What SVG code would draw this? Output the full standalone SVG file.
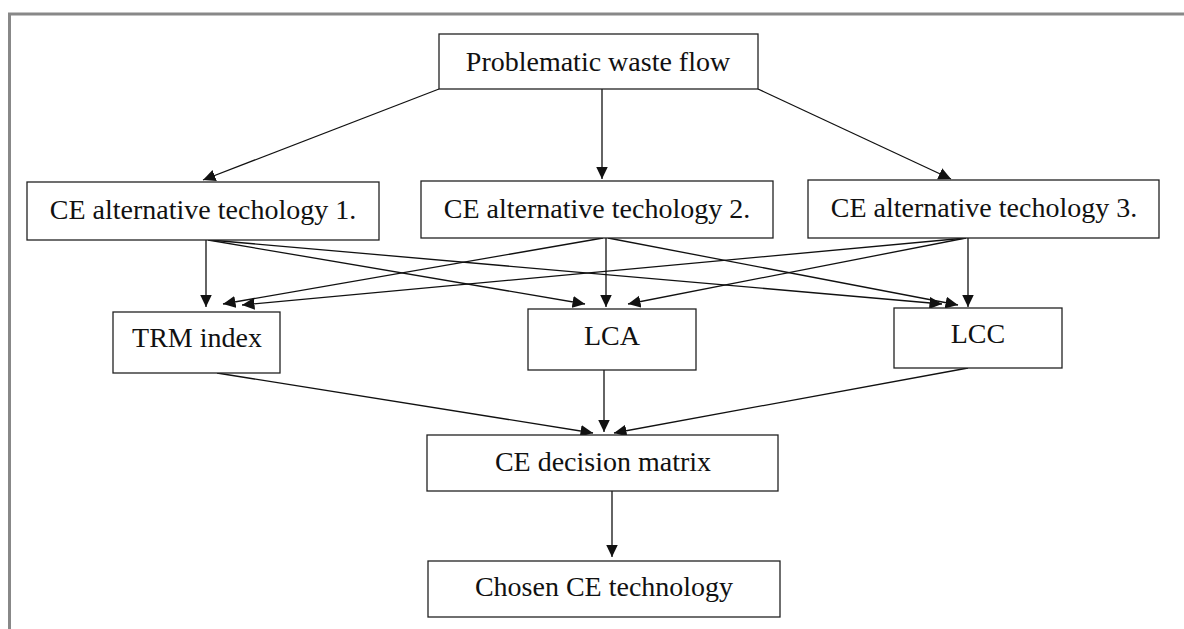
<svg xmlns="http://www.w3.org/2000/svg" width="1184" height="629" viewBox="0 0 1184 629">
<defs>
<style>
.box{fill:#fff;stroke:#222;stroke-width:1.3}
.lbl{font-family:"Liberation Serif","Times New Roman",serif;font-size:28px;fill:#111;text-anchor:middle}
.edge{stroke:#111;stroke-width:1.3;fill:none;marker-end:url(#ah)}
</style>
<marker id="ah" markerUnits="userSpaceOnUse" markerWidth="14" markerHeight="13" refX="12.5" refY="6" orient="auto">
<path d="M0,0 L12.5,6 L0,12 z" fill="#111"/>
</marker>
</defs>
<rect width="1184" height="629" fill="#fff"/>
<path d="M9.5,629 V14 H1184" fill="none" stroke="#888" stroke-width="3"/>
<g id="connectors">
<line class="edge" x1="439" y1="89" x2="203" y2="180"/>
<line class="edge" x1="602" y1="89" x2="602" y2="179"/>
<line class="edge" x1="758" y1="89" x2="951" y2="179"/>
<line class="edge" x1="206" y1="240" x2="206" y2="307"/>
<line class="edge" x1="208" y1="240" x2="585" y2="304"/>
<line class="edge" x1="210" y1="240" x2="942" y2="304"/>
<line class="edge" x1="603" y1="238" x2="223" y2="304"/>
<line class="edge" x1="606" y1="238" x2="606" y2="307"/>
<line class="edge" x1="608" y1="238" x2="958" y2="305"/>
<line class="edge" x1="966" y1="238" x2="242" y2="305"/>
<line class="edge" x1="966" y1="238" x2="628" y2="304"/>
<line class="edge" x1="968" y1="238" x2="968" y2="307"/>
<line class="edge" x1="217" y1="373" x2="593" y2="433"/>
<line class="edge" x1="604" y1="370" x2="604" y2="432"/>
<line class="edge" x1="968" y1="368" x2="614" y2="433"/>
<line class="edge" x1="612" y1="491" x2="612" y2="557"/>
</g>
<g id="problematic">
<rect class="box" x="439" y="34" width="319" height="55"/>
<text class="lbl" x="598" y="71">Problematic waste flow</text>
</g>
<g id="alt1">
<rect class="box" x="27" y="182" width="352" height="58"/>
<text class="lbl" x="203" y="219">CE alternative techology 1.</text>
</g>
<g id="alt2">
<rect class="box" x="421" y="181" width="352" height="57"/>
<text class="lbl" x="597" y="218">CE alternative techology 2.</text>
</g>
<g id="alt3">
<rect class="box" x="808" y="180" width="351" height="58"/>
<text class="lbl" x="984" y="217">CE alternative techology 3.</text>
</g>
<g id="trm">
<rect class="box" x="113" y="312" width="167" height="61"/>
<text class="lbl" x="197" y="347">TRM index</text>
</g>
<g id="lca">
<rect class="box" x="528" y="309" width="168" height="61"/>
<text class="lbl" x="612" y="345">LCA</text>
</g>
<g id="lcc">
<rect class="box" x="894" y="308" width="168" height="60"/>
<text class="lbl" x="978" y="343">LCC</text>
</g>
<g id="matrix">
<rect class="box" x="427" y="435" width="351" height="56"/>
<text class="lbl" x="603" y="471">CE decision matrix</text>
</g>
<g id="chosen">
<rect class="box" x="428" y="561" width="352" height="56"/>
<text class="lbl" x="604" y="596">Chosen CE technology</text>
</g>
</svg>
